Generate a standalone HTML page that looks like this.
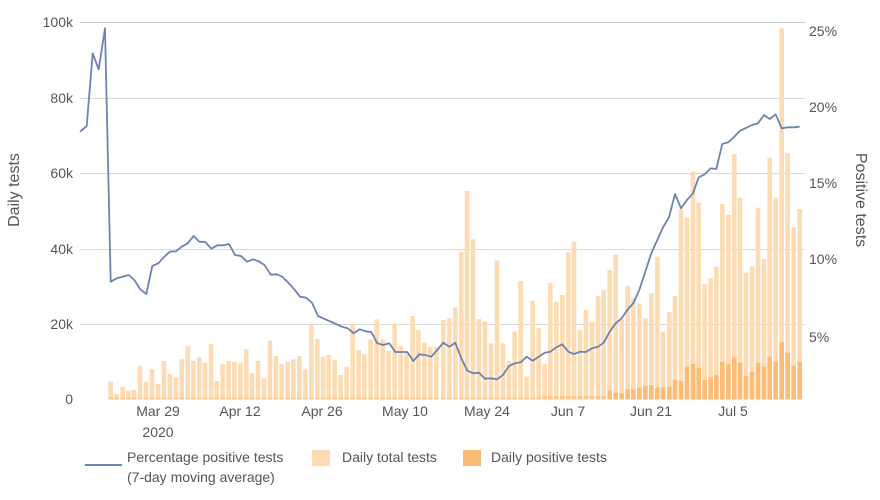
<!DOCTYPE html>
<html><head><style>
body{margin:0;background:#fff;}
svg text{font-family:"Liberation Sans",sans-serif;fill:#555;}
</style></head><body>
<svg id="c" width="880" height="495" viewBox="0 0 880 495" xmlns="http://www.w3.org/2000/svg">
<g stroke="#d9d9d9" stroke-width="1">
<line x1="80" x2="805" y1="22.5" y2="22.5" stroke="#ccc"/>
<line x1="80" x2="805" y1="98.5" y2="98.5"/>
<line x1="80" x2="805" y1="173.5" y2="173.5"/>
<line x1="80" x2="805" y1="249.5" y2="249.5"/>
<line x1="80" x2="805" y1="324.5" y2="324.5"/>
</g>
<g id="bars"></g>
<polyline id="ln" fill="none" stroke="#6c84b0" stroke-width="1.8" stroke-linejoin="round"/>
<g font-size="14" text-anchor="end">
<text x="73" y="27">100k</text><text x="73" y="103">80k</text><text x="73" y="178">60k</text>
<text x="73" y="254">40k</text><text x="73" y="329">20k</text><text x="73" y="404">0</text>
</g>
<g font-size="14">
<text x="809" y="36">25%</text><text x="809" y="112">20%</text><text x="809" y="188">15%</text>
<text x="809" y="264">10%</text><text x="809" y="342">5%</text>
</g>
<g font-size="14" text-anchor="middle">
<text x="158" y="416">Mar 29</text><text x="158" y="437">2020</text>
<text x="240" y="416">Apr 12</text><text x="322" y="416">Apr 26</text>
<text x="405" y="416">May 10</text><text x="487" y="416">May 24</text>
<text x="568" y="416">Jun 7</text><text x="651" y="416">Jun 21</text><text x="733" y="416">Jul 5</text>
</g>
<text font-size="16" transform="translate(19,190) rotate(-90)" text-anchor="middle">Daily tests</text>
<text font-size="16" transform="translate(856,200) rotate(90)" text-anchor="middle">Positive tests</text>
<line x1="85" x2="122" y1="465" y2="465" stroke="#6c84b0" stroke-width="2"/>
<text x="127" y="462" font-size="14">Percentage positive tests</text>
<text x="127" y="482" font-size="14">(7-day moving average)</text>
<rect x="312" y="450" width="18" height="16" fill="#fddcb3"/>
<text x="342" y="462" font-size="14">Daily total tests</text>
<rect x="463" y="450" width="18" height="16" fill="#fbbc76"/>
<text x="491" y="462" font-size="14">Daily positive tests</text>
</svg>
<script>
var NS="http://www.w3.org/2000/svg",g=document.getElementById("bars");
var t1=[[92,1085],[110,1122],[128,1100],[145,1112],[162,1110],[180,1038],[198,1085],[216,1048],[234,1092],[252,1023],[270,1062],[288,1073],[305,1018],[323,978],[340,1023],[358,1012],[375,1028],[393,972],[410,1083],[428,1033],[446,1023],[463,1025],[481,1028],[499,988],[516,1060],[534,1023],[552,1075],[570,962],[588,1008],[605,1032],[623,1025],[640,1018],[658,1008],[676,1048],[694,912],[712,957],[729,1010],[746,1005],[764,1020],[782,1065],[800,1040],[818,912],[836,990],[853,1003],[872,958],[890,898],[908,958],[926,993],[944,910],[962,978],[980,998],[998,888],[1015,930],[1033,968],[1051,980],[1069,980]];
var t2=[[10,900],[28,895],[46,862],[64,695],[81,513],[99,658],[117,897],[135,905],[153,970],[171,722],[189,970],[207,1023],[224,935],[242,783],[260,1070],[278,842],[296,923],[314,1033],[331,788],[349,845],[367,825],[385,697],[402,665],[420,930],[438,870],[456,905],[474,828],[491,810],[509,750],[527,703],[545,898],[563,798],[580,835],[598,850],[616,895],[634,820],[652,710],[669,935],[688,876],[705,828],[723,568],[741,593],[759,455],[776,548],[794,792],[812,775],[829,740],[847,552],[865,585],[883,402],[900,533],[918,758],[936,740],[954,563],[972,717],[989,413],[1007,533],[1025,25],[1043,400],[1061,622],[1079,567]];
var p2={509:1112,527:1118,545:1120,563:1108,580:1108,598:1103,616:1098,634:1095,652:1102,669:1103,688:1100,705:1080,723:1083,741:1040,759:1032,776:1043,794:1080,812:1072,829:1065,847:1025,865:1033,883:1012,900:1028,918:1068,936:1055,954:1028,972:1040,989:1010,1007:1025,1025:967,1043:998,1061:1037,1079:1025};
function bar(x,top,fill){var r=document.createElementNS(NS,"rect");r.setAttribute("x",x-2.3);r.setAttribute("y",top);r.setAttribute("width",4.6);r.setAttribute("height",Math.max(0,399.5-top));r.setAttribute("fill",fill);g.appendChild(r);}
t1.forEach(function(b){var x=b[0]/3+80,y=b[1]/3+20;bar(x,y,"#fddcb3");bar(x,397.5,"#fcc68c");});
t2.forEach(function(b){var x=b[0]/3+440,y=b[1]/3+20;bar(x,y,"#fddcb3");var p=p2[b[0]];bar(x,p?p/3+20:(b[0]>300?396:397.5),p?"#fbbc76":"#fcc68c");});
var l1=[[0,335],[20,318],[38,100],[56,148],[75,25],[92,785],[110,775],[128,770],[146,765],[163,780],[181,808],[199,822],[217,738],[235,730],[253,710],[270,695],[288,694],[305,680],[323,670],[341,648],[358,665],[376,666],[394,686],[412,676],[430,676],[447,672],[465,705],[483,708],[501,725],[518,718],[536,724],[554,736],[572,764],[590,763],[607,770],[625,788],[643,808],[660,830],[678,833],[696,848],[714,888],[732,896],[750,904],[768,912],[786,920],[803,925],[821,940],[839,928],[857,934],[874,936],[892,970],[910,975],[928,970],[946,996],[964,996],[982,996],[1000,1023],[1018,1003],[1036,1005],[1054,1010],[1072,990],[1090,968],[1108,980]];
var l2=[[10,968],[28,980],[46,968],[64,1015],[82,1052],[100,1060],[117,1058],[135,1076],[153,1075],[171,1078],[189,1065],[207,1038],[225,1030],[242,1027],[260,1010],[278,1022],[296,1010],[314,998],[331,995],[349,982],[367,973],[385,995],[402,1002],[420,995],[438,996],[456,985],[474,980],[491,968],[509,935],[527,910],[545,895],[563,868],[580,850],[598,810],[616,755],[634,700],[652,660],[669,622],[687,592],[705,522],[723,565],[741,540],[759,520],[776,472],[794,463],[812,445],[829,447],[847,372],[865,367],[883,350],[900,332],[918,324],[936,315],[954,310],[972,285],[989,297],[1007,283],[1025,325],[1043,322],[1061,322],[1079,320]];
var pts=l1.map(function(p){return (p[0]/3+80).toFixed(1)+","+(p[1]/3+20).toFixed(1);}).concat(l2.map(function(p){return (p[0]/3+440).toFixed(1)+","+(p[1]/3+20).toFixed(1);}));
document.getElementById("ln").setAttribute("points",pts.join(" "));
</script>
</body></html>
